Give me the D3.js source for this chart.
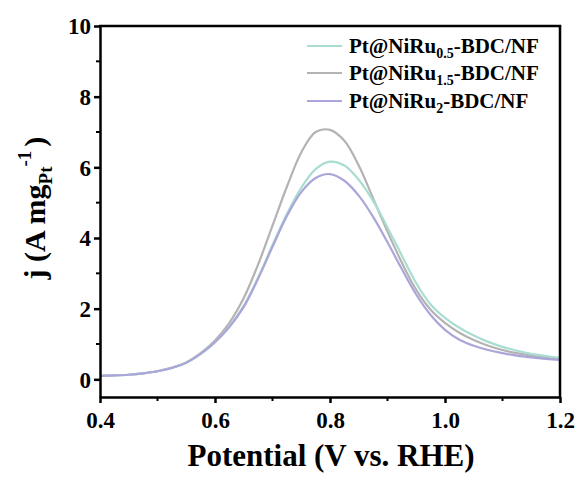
<!DOCTYPE html>
<html>
<head>
<meta charset="utf-8">
<script src="https://cdn.jsdelivr.net/npm/d3@7/dist/d3.min.js"></script>
<style>
  html, body { margin: 0; padding: 0; background: #fff; }
  svg text { font-family: "Liberation Serif", Tinos, "Times New Roman", Times, "DejaVu Serif", serif; font-weight: 700; fill: #000; }
</style>
</head>
<body>
<svg id="chart" width="581" height="483"></svg>
<script>
// Potential (V vs. RHE)
const potentials = [0.400, 0.425, 0.450, 0.475, 0.500, 0.525, 0.550, 0.575, 0.600, 0.625,
  0.650, 0.675, 0.700, 0.725, 0.750, 0.775, 0.800, 0.825, 0.850, 0.875,
  0.900, 0.925, 0.950, 0.975, 1.000, 1.025, 1.050, 1.075, 1.100, 1.125,
  1.150, 1.175, 1.200];

// Mass activity j (A mg_Pt^-1) for each catalyst
const niRu05 = [0.10, 0.11, 0.13, 0.17, 0.23, 0.32, 0.47, 0.72, 1.05, 1.50,
  2.08, 2.88, 3.80, 4.68, 5.42, 5.95, 6.16, 6.05, 5.65, 5.05,
  4.30, 3.50, 2.72, 2.12, 1.74, 1.46, 1.24, 1.06, 0.92, 0.81,
  0.72, 0.66, 0.61];
const niRu15 = [0.10, 0.11, 0.13, 0.17, 0.23, 0.33, 0.48, 0.74, 1.10, 1.60,
  2.30, 3.25, 4.35, 5.45, 6.42, 7.00, 7.06, 6.75, 6.05, 5.12,
  4.18, 3.30, 2.53, 1.97, 1.60, 1.32, 1.11, 0.95, 0.83, 0.74,
  0.67, 0.61, 0.57];
const niRu2 = [0.10, 0.11, 0.13, 0.17, 0.23, 0.32, 0.47, 0.72, 1.05, 1.48,
  2.05, 2.85, 3.75, 4.62, 5.30, 5.70, 5.81, 5.62, 5.20, 4.60,
  3.88, 3.12, 2.40, 1.82, 1.40, 1.12, 0.95, 0.83, 0.74, 0.67,
  0.62, 0.58, 0.55];

const seriesNames = ["Pt@NiRu0.5-BDC/NF", "Pt@NiRu1.5-BDC/NF", "Pt@NiRu2-BDC/NF"];
const seriesSubs = ["0.5", "1.5", "2"];
const seriesColors = ["#a9ddd2", "#b3b3b3", "#aaa6d9"];
const seriesValues = [niRu05, niRu15, niRu2];

const xTicks = [0.4, 0.6, 0.8, 1.0, 1.2];
const xMinor = [0.5, 0.7, 0.9, 1.1];
const yTicks = [0, 2, 4, 6, 8, 10];
const yMinor = [1, 3, 5, 7, 9];

const FONT = "'Liberation Serif', Tinos, 'Times New Roman', Times, 'DejaVu Serif', serif";

const svg = d3.select("#chart");
const plotLeft = 100, plotRight = 560, plotTop = 26, plotBottom = 397;

const x = d3.scaleLinear().domain([0.4, 1.2]).range([plotLeft, plotRight]);
const y = d3.scaleLinear().domain([-0.5, 10]).range([plotBottom, plotTop]);

// Curves
const line = d3.line()
  .x(d => x(d[0]))
  .y(d => y(d[1]))
  .curve(d3.curveCatmullRom.alpha(0.5));

const drawOrder = [1, 0, 2];
drawOrder.forEach(i => {
  svg.append("path")
    .datum(potentials.map((p, k) => [p, seriesValues[i][k]]))
    .attr("fill", "none")
    .attr("stroke", seriesColors[i])
    .attr("stroke-width", 2.2)
    .attr("d", line);
});

// Axes
const xAxis = svg.append("g").attr("transform", `translate(0,${plotBottom})`)
  .call(d3.axisBottom(x).tickValues(xTicks).tickFormat(d3.format(".1f")).tickSize(6).tickSizeOuter(0));
xAxis.append("g").selectAll("line").data(xMinor).join("line")
  .attr("x1", d => x(d)).attr("x2", d => x(d)).attr("y1", 0).attr("y2", 4)
  .attr("stroke", "#000").attr("stroke-width", 2);

const yAxis = svg.append("g").attr("transform", `translate(${plotLeft},0)`)
  .call(d3.axisLeft(y).tickValues(yTicks).tickFormat(d3.format("d")).tickSize(6).tickSizeOuter(0));
yAxis.append("g").selectAll("line").data(yMinor).join("line")
  .attr("x1", 0).attr("x2", -4).attr("y1", d => y(d)).attr("y2", d => y(d))
  .attr("stroke", "#000").attr("stroke-width", 2);

[xAxis, yAxis].forEach(g => {
  g.attr("font-family", FONT).attr("font-size", 23).attr("font-weight", "bold");
  g.select(".domain").attr("stroke", "#000").attr("stroke-width", 2.5);
  g.selectAll(".tick line").attr("stroke", "#000").attr("stroke-width", 2.5);
  g.selectAll(".tick text").attr("fill", "#000").attr("font-family", FONT).attr("font-size", 23);
});
xAxis.selectAll(".tick text").attr("dy", null).attr("y", 31);
yAxis.selectAll(".tick text").attr("x", -9).attr("dy", "0.34em");

// Frame top & right
svg.append("line").attr("x1", plotLeft - 1).attr("x2", plotRight + 1.25).attr("y1", plotTop).attr("y2", plotTop)
  .attr("stroke", "#000").attr("stroke-width", 2.5);
svg.append("line").attr("x1", plotRight).attr("x2", plotRight).attr("y1", plotTop).attr("y2", plotBottom)
  .attr("stroke", "#000").attr("stroke-width", 2.5);

// Axis titles
svg.append("text")
  .attr("x", 331).attr("y", 466)
  .attr("text-anchor", "middle")
  .attr("font-family", FONT)
  .attr("font-size", 31)
  .text("Potential (V vs. RHE)");

const yt = svg.append("text")
  .attr("transform", "translate(45,208) rotate(-90)")
  .attr("text-anchor", "middle")
  .attr("font-family", FONT)
  .attr("font-size", 30);
yt.append("tspan").text("j (A mg");
yt.append("tspan").attr("dy", 7).attr("font-size", 19).text("Pt");
yt.append("tspan").attr("dy", -21).attr("font-size", 19).text("-1");
yt.append("tspan").attr("dx", 4).attr("dy", 14).text(")");

// Legend
const legY = [46, 73, 101];
seriesNames.forEach((name, i) => {
  const g = svg.append("g").attr("transform", `translate(307,${legY[i]})`);
  g.append("line").attr("x1", 0).attr("x2", 35).attr("y1", 0).attr("y2", 0)
    .attr("stroke", seriesColors[i]).attr("stroke-width", 2.2);
  const t = g.append("text").attr("x", 42).attr("y", 7).attr("font-family", FONT).attr("font-size", 21);
  t.append("tspan").text("Pt@NiRu");
  t.append("tspan").attr("dy", 5).attr("font-size", 14).text(seriesSubs[i]);
  t.append("tspan").attr("dy", -5).text("-BDC/NF");
});
</script>
</body>
</html>
